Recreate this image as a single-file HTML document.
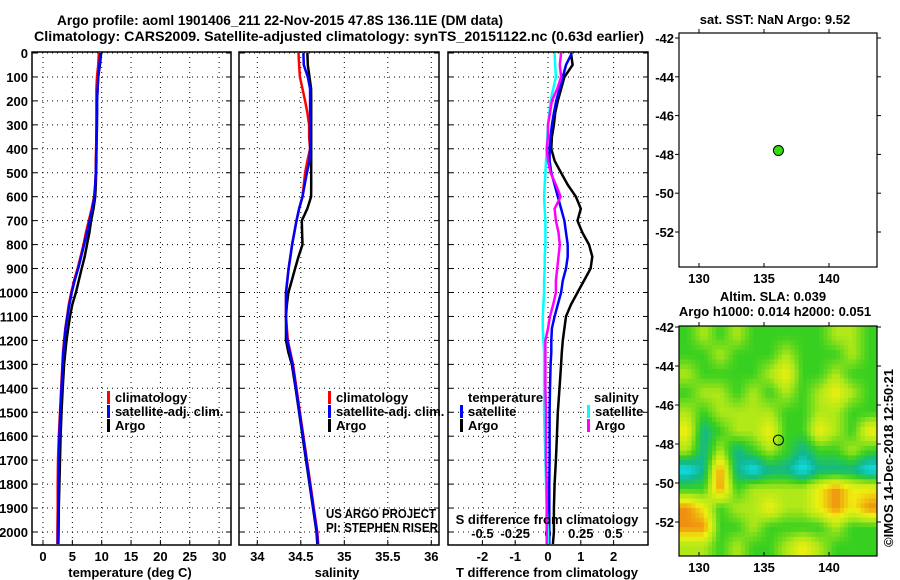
<!DOCTYPE html>
<html><head><meta charset="utf-8">
<style>
html,body{margin:0;padding:0;background:#fff;}
svg{display:block;font-family:"Liberation Sans",Arial,sans-serif;}
.b{font-weight:bold;font-size:13px;}
.t{font-weight:bold;font-size:14px;}
</style></head>
<body>
<svg id="chart" width="900" height="580" viewBox="0 0 900 580" xmlns="http://www.w3.org/2000/svg">
<defs>
<clipPath id="mapclip"><rect x="679" y="326" width="198" height="230"/></clipPath>
</defs>
<text class="t" x="280" y="25" text-anchor="middle" textLength="446" lengthAdjust="spacingAndGlyphs">Argo profile: aoml 1901406_211 22-Nov-2015 47.8S 136.11E (DM data)</text>
<text class="t" x="339" y="41" text-anchor="middle" textLength="610" lengthAdjust="spacingAndGlyphs">Climatology: CARS2009. Satellite-adjusted climatology: synTS_20151122.nc (0.63d earlier)</text>
<g id="layer"></g>
</svg>
<script>
// ---------- data ----------
const depthTicks = [0,100,200,300,400,500,600,700,800,900,1000,1100,1200,1300,1400,1500,1600,1700,1800,1900,2000];
const tempTicks = [0,5,10,15,20,25,30];
const salTicks = [34,34.5,35,35.5,36];
const salTickLabels = ["34","34.5","35","35.5","36"];
const tdiffTicks = [-2,-1,0,1,2];
const sdiffTicks = [-0.5,-0.25,0,0.25,0.5];
const sdiffTickLabels = ["-0.5","-0.25","0","0.25","0.5"];
const lonTicks = [130,135,140];
const latTicks = [-42,-44,-46,-48,-50,-52];

const depths = [0,50,100,150,200,250,300,350,400,450,500,550,600,650,700,750,800,850,900,950,1000,1050,1100,1150,1200,1250,1300,1400,1500,1600,1700,1800,1900,2000,2050];
const tempArgo = [9.9,9.7,9.4,9.3,9.2,9.2,9.2,9.15,9.1,9.1,9.05,9.0,8.9,8.6,8.2,7.9,7.5,7.1,6.6,6.1,5.6,5.0,4.6,4.3,4.0,3.8,3.6,3.35,3.15,3.0,2.9,2.8,2.7,2.65,2.6];
const tempClim = [9.5,9.4,9.2,9.1,9.1,9.1,9.1,9.1,9.05,9.0,9.0,8.9,8.7,8.3,7.8,7.3,6.9,6.4,5.9,5.3,4.8,4.4,4.1,3.8,3.6,3.4,3.3,3.1,2.9,2.7,2.55,2.5,2.5,2.45,2.45];
const tempSat = [9.8,9.6,9.4,9.3,9.2,9.2,9.15,9.1,9.1,9.05,9.0,8.9,8.75,8.4,7.95,7.5,7.0,6.5,6.0,5.4,4.9,4.5,4.15,3.85,3.65,3.45,3.35,3.15,2.95,2.8,2.7,2.65,2.6,2.55,2.5];
const salArgo = [34.576,34.58,34.6,34.618,34.62,34.62,34.62,34.62,34.62,34.62,34.62,34.62,34.618,34.575,34.511,34.515,34.52,34.473,34.435,34.397,34.358,34.34,34.33,34.33,34.33,34.358,34.397,34.44,34.48,34.52,34.56,34.6,34.64,34.68,34.69];
const salClim = [34.473,34.48,34.49,34.52,34.55,34.576,34.595,34.595,34.607,34.576,34.55,34.535,34.52,34.48,34.45,34.425,34.4,34.38,34.36,34.345,34.33,34.33,34.33,34.34,34.35,34.38,34.41,34.45,34.49,34.53,34.57,34.61,34.65,34.69,34.7];
const salSat = [34.53,34.535,34.58,34.607,34.607,34.607,34.607,34.607,34.607,34.6,34.57,34.545,34.52,34.48,34.45,34.425,34.4,34.38,34.36,34.345,34.33,34.33,34.33,34.335,34.345,34.375,34.405,34.445,34.485,34.525,34.565,34.605,34.645,34.685,34.695];
const tdiffArgo = [0.7,0.75,0.5,0.4,0.3,0.22,0.18,0.12,0.1,0.2,0.4,0.6,0.85,1.0,0.9,1.05,1.25,1.35,1.3,1.1,0.9,0.7,0.55,0.5,0.45,0.42,0.4,0.35,0.3,0.27,0.24,0.2,0.18,0.18,0.15];
const tdiffSat = [0.73,0.55,0.45,0.35,0.25,0.18,0.12,0.08,0.05,0.05,0.1,0.2,0.3,0.4,0.5,0.55,0.6,0.6,0.55,0.45,0.4,0.3,0.2,0.12,0.1,0.1,0.08,0.06,0.05,0.05,0.05,0.04,0.04,0.04,0.04];
const sdiffArgo = [0.1,0.09,0.1,0.07,0.03,0.015,0.0,0.0,-0.01,0.0,0.02,0.06,0.096,0.05,0.06,0.08,0.09,0.08,0.07,0.06,0.06,0.04,0.015,0.0,-0.02,-0.02,-0.02,-0.02,-0.015,-0.015,-0.015,-0.01,-0.01,-0.01,-0.01];
const sdiffSat = [0.05,0.055,0.06,0.04,0.02,0.01,0.0,-0.005,-0.01,-0.015,-0.02,-0.025,-0.03,-0.025,-0.02,-0.02,-0.02,-0.025,-0.025,-0.03,-0.03,-0.035,-0.04,-0.04,-0.035,-0.03,-0.03,-0.03,-0.03,-0.025,-0.02,-0.015,-0.01,0.0,0.0];

const floatLon = 136.11;
const floatLat = -47.8;
// SLA map values (rows north->south, 12x12), scale 0 (low, cyan) .. 5 (high, orange)
const slaGrid = [
 [2,3,2,3,2,2,2,2,2,3,3,2],
 [2,2,3,2,2,2,3,2,2,2,3,2],
 [3,2,2,2,2,3,4,2,2,3,2,2],
 [2,3,3,2,3,2,3,2,3,4,3,2],
 [3,2,3,3,3,3,2,2,3,3,2,2],
 [4,1,2,3,3,4,2,2,4,3,2,4],
 [3,1,3,1,2,3,2,1,2,2,3,2],
 [0,1,5,1,0,1,1,0,1,1,1,0],
 [2,2,5,2,3,3,3,3,4,5,4,4],
 [5,4,2,3,3,4,3,3,4,5,4,5],
 [5,5,2,2,3,2,2,2,2,3,2,2],
 [3,3,2,3,2,2,3,4,3,2,2,2]];
const slaColors = [[16,224,240],[16,184,144],[56,208,32],[176,232,24],[240,240,16],[240,144,16]];

// ---------- scales ----------
const NS="http://www.w3.org/2000/svg";
const L=document.getElementById('layer');
const yD = d => 53 + d*0.2395;
const PT = 52, PB = 545;
const xT = v => 43 + v*5.87;
const xS = v => 257.3 + (v-34)*87;
const xTD = v => 548 + v*32.8;
const xSD = v => 548 + v*131.2;
const xLon = v => 699 + (v-130)*13;
const yLat1 = v => 38 + (-42 - v)*19.4;
const yLat2 = v => 327 + (-42 - v)*19.5;

function mk(tag, attrs, parent){
  const e=document.createElementNS(NS,tag);
  for(const k in attrs) e.setAttribute(k,attrs[k]);
  (parent||L).appendChild(e); return e;
}
function txt(s,x,y,anchor,cls,fill){
  const e=mk('text',{x:x,y:y,'text-anchor':anchor||'start','class':cls||'b',fill:fill||'#000'});
  e.textContent=s; return e;
}

// ---------- panels ----------
const panels=[
 {x0:32,x1:231,name:'temperature-panel'},
 {x0:239,x1:439,name:'salinity-panel'},
 {x0:448,x1:648,name:'difference-panel'}];
panels.forEach(p=>{
  depthTicks.forEach(d=>{
    const g=mk('line',{x1:p.x0,x2:p.x1,y1:yD(d),y2:yD(d),stroke:'#000','stroke-width':1,'stroke-dasharray':'1,4'});
    
    
    mk('line',{x1:p.x0,x2:p.x0+5,y1:yD(d),y2:yD(d),stroke:'#000'});
    mk('line',{x1:p.x1-5,x2:p.x1,y1:yD(d),y2:yD(d),stroke:'#000'});
  });
});
function vgrid(xs,xf){
  xs.forEach(v=>{
    const g=mk('line',{x1:xf(v),x2:xf(v),y1:PT,y2:PB,stroke:'#000','stroke-dasharray':'1,4'});
    
    
    mk('line',{x1:xf(v),x2:xf(v),y1:PB-5,y2:PB,stroke:'#000'});
  });
}
vgrid(tempTicks,xT); vgrid(salTicks,xS); vgrid(tdiffTicks,xTD);

depthTicks.forEach(d=>{
  const t=txt(String(d),28,yD(d)+5,'end');
  
  
});
tempTicks.forEach(v=>{const t=txt(String(v),xT(v),561,'middle');
  
  });
salTicks.forEach((v,i)=>{const t=txt(salTickLabels[i],xS(v),561,'middle');
  
  });
tdiffTicks.forEach(v=>{const t=txt(String(v),xTD(v),561,'middle');
  
  });
sdiffTicks.forEach((v,i)=>{const t=txt(sdiffTickLabels[i],xSD(v),538,'middle');
  
  });

function stepLine(vals,xf,color,name,w){
  let d='';
  vals.forEach((v,i)=>{ d+=(i?'L':'M')+xf(v).toFixed(1)+' '+yD(depths[i]).toFixed(1); });
  const e=mk('path',{d:d,fill:'none',stroke:color,'stroke-width':w||2.5,'stroke-linejoin':'miter'});
  
  
}
stepLine(tempArgo,xT,'#000','temperature-argo-line');
stepLine(tempClim,xT,'#ff0000','temperature-climatology-line');
stepLine(tempSat,xT,'#0000ff','temperature-satellite-line');
stepLine(salArgo,xS,'#000','salinity-argo-line');
stepLine(salClim,xS,'#ff0000','salinity-climatology-line');
stepLine(salSat,xS,'#0000ff','salinity-satellite-line');
stepLine(tdiffArgo,xTD,'#000','tdiff-argo-line');
stepLine(tdiffSat,xTD,'#0000ff','tdiff-satellite-line');
stepLine(sdiffSat,xSD,'#00ffff','sdiff-satellite-line');
stepLine(sdiffArgo,xSD,'#ff00ff','sdiff-argo-line');

panels.forEach(p=>{
  const r=mk('rect',{x:p.x0,y:PT,width:p.x1-p.x0,height:PB-PT,fill:'none',stroke:'#000','stroke-width':1.5});
  
  
});

function leg(x,y,color,label,name){
  mk('rect',{x:x,y:y-11,width:3,height:13,fill:color});
  const t=txt(label,x+8,y);
  
  
}
leg(107,402,'#ff0000','climatology','legend-climatology');
leg(107,416,'#0000ff','satellite-adj. clim.','legend-satellite');
leg(107,430,'#000','Argo','legend-argo');
leg(328,402,'#ff0000','climatology','legend-climatology-sal');
leg(328,416,'#0000ff','satellite-adj. clim.','legend-satellite-sal');
leg(328,430,'#000','Argo','legend-argo-sal');
{const t=txt('temperature',468,402);}
leg(460,416,'#0000ff','satellite','legend-t-satellite');
leg(460,430,'#000','Argo','legend-t-argo');
{const t=txt('salinity',594,402);}
leg(587,416,'#00ffff','satellite','legend-s-satellite');
leg(587,430,'#ff00ff','Argo','legend-s-argo');

{const t=txt('US ARGO PROJECT',326,518,'start','','#000');t.setAttribute('font-size','12');t.setAttribute('textLength','110');t.setAttribute('lengthAdjust','spacingAndGlyphs');}
{const t=txt('PI: STEPHEN RISER',326,532,'start','','#000');t.setAttribute('font-size','12');t.setAttribute('textLength','112');t.setAttribute('lengthAdjust','spacingAndGlyphs');}
{const t=txt('S difference from climatology',547,524,'middle');}
{const t=txt('temperature (deg C)',130,577,'middle');}
{const t=txt('salinity',337,577,'middle');}
{const t=txt('T difference from climatology',547,577,'middle');}

// ---------- maps ----------
{const t=txt('sat. SST: NaN Argo: 9.52',775,24,'middle');}
{const t=txt('Altim. SLA: 0.039',773,301,'middle');}
{const t=txt('Argo h1000: 0.014 h2000: 0.051',775,316,'middle');}

const hg=mk('g',{'clip-path':'url(#mapclip)'});


const nR=slaGrid.length, nC=slaGrid[0].length;
const SUB=4;
const cw=198/nC/SUB, ch=230/nR/SUB;
function gv(r,c){r=Math.max(0,Math.min(nR-1,r));c=Math.max(0,Math.min(nC-1,c));return slaGrid[r][c];}
function cmap(v){
  v=Math.max(0,Math.min(5,v)); const i=Math.min(4,Math.floor(v)), f=v-i;
  const a=slaColors[i], b=slaColors[i+1];
  return 'rgb('+a.map((x,k)=>Math.round(x+(b[k]-x)*f)).join(',')+')';
}
for(let i=0;i<nR*SUB;i++){
  for(let j=0;j<nC*SUB;j++){
    const fr=(i+0.5)/SUB-0.5, fc=(j+0.5)/SUB-0.5;
    const r0=Math.floor(fr), c0=Math.floor(fc), tr=fr-r0, tc=fc-c0;
    const v=(gv(r0,c0)*(1-tc)+gv(r0,c0+1)*tc)*(1-tr)+(gv(r0+1,c0)*(1-tc)+gv(r0+1,c0+1)*tc)*tr;
    const e=mk('rect',{x:(679+j*cw).toFixed(2),y:(326+i*ch).toFixed(2),width:(cw+0.6).toFixed(2),height:(ch+0.6).toFixed(2),fill:cmap(v)},hg);
    
    
  }
}

function mapFrame(y0,y1,yl,name){
  const r=mk('rect',{x:679,y:y0,width:198,height:y1-y0,fill:'none',stroke:'#000','stroke-width':1.2});
  
  
  lonTicks.forEach(v=>{
    mk('line',{x1:xLon(v),x2:xLon(v),y1:y0,y2:y0-4,stroke:'#000'});
    mk('line',{x1:xLon(v),x2:xLon(v),y1:y1,y2:y1-4,stroke:'#000'});
    const t=txt(String(v),xLon(v),y1+16,'middle');
    
    
  });
  latTicks.forEach(v=>{
    mk('line',{x1:877,x2:881,y1:yl(v),y2:yl(v),stroke:'#000'});
    mk('line',{x1:679,x2:675,y1:yl(v),y2:yl(v),stroke:'#000'});
    const t=txt(String(v),674,yl(v)+5,'end');
    
    
  });
}
mapFrame(33,267,yLat1,'sst-map');
mapFrame(326,556,yLat2,'sla-map');
{const c=mk('circle',{cx:xLon(floatLon),cy:yLat1(floatLat),r:5,fill:'#33dd11',stroke:'#000','stroke-width':1});
}
{const c=mk('circle',{cx:xLon(floatLon),cy:yLat2(floatLat),r:5,fill:'none',stroke:'#000','stroke-width':1});
}
{const t=txt('©IMOS 14-Dec-2018 12:50:21',0,0,'start','','#000');
t.setAttribute('font-size','13');
t.setAttribute('transform','translate(893,547) rotate(-90)');
}
</script>
</body></html>
